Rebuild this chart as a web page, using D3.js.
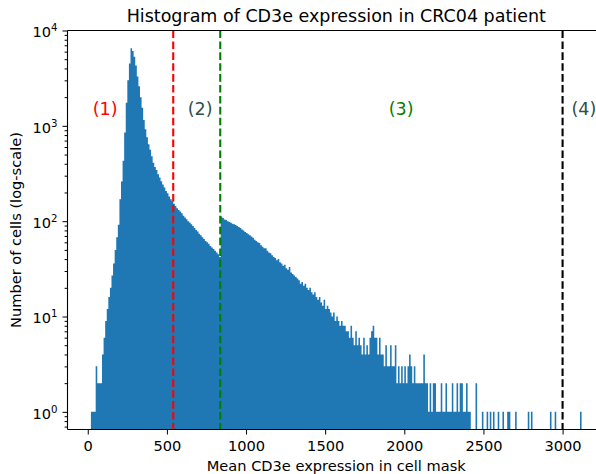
<!DOCTYPE html>
<meta charset="utf-8">
<style>
body { margin: 0; background: #fff; }
svg { display: block; font-family: "DejaVu Sans", sans-serif; }
</style>
<svg width="596" height="474"></svg>
<script src="https://cdnjs.cloudflare.com/ajax/libs/d3/7.8.5/d3.min.js"></script>
<script>

var svg = d3.select("svg"),
    width = +svg.attr("width"),
    height = +svg.attr("height");

// histogram of mean CD3e per cell, bins of 10 starting at 20
var binStart = 20, binWidth = 10;
var counts = [
  1,1,1,3,2,2,2,4,6,9,
  12,16,20,27,36,50,68,92,170,260,
  430,850,1750,3000,4500,6500,6100,5300,4300,3300,
  2600,2000,1550,1150,920,760,640,560,480,410,
  370,345,310,288,262,242,226,207,196,182,
  170,163,152,144,137,131,126,121,114,109,
  105,100,97,93,89,85,81,78,74,71,
  68,65,62,60,58,55,53,51,49,47,
  45,42,112,108,104,103,100,98,96,94,
  93,91,89,87,85,82,80,77,75,73,
  71,69,67,64,62,60,59,56,54,52,
  52,49,47,46,44,42,41,39,40,37,
  36,34,35,32,31,33,29,28,27,26,
  25,24,22,23,21,22,20,19,20,18,
  17,18,16,15,16,14,13,15,12,13,
  12,11,10,11,9,10,9,8,9,8,
  8,7,7,6,8,6,5,7,5,6,
  5,4,6,4,5,4,6,7,8,6,
  6,4,6,4,4,3,5,3,3,5,
  3,3,5,2,3,2,3,2,3,2,
  3,4,3,2,3,2,2,2,2,2,
  4,2,2,1,2,1,2,2,1,1,
  1,2,1,1,2,1,1,1,2,1,
  1,2,1,2,2,1,1,2,1,1
];
// sparse far tail: [bin start, count]
var tail = [[2450,2],[2490,1],[2520,1],[2540,1],[2560,1],[2590,1],[2620,1],
            [2650,1],[2660,1],[2700,1],[2780,1],[2800,1],[2920,1],[2950,1],[3110,1]];

var cutoffs = [540, 837, 3000];
var cutoffColors = ["red", "green", "black"];
var regionLabels = ["(1)", "(2)", "(3)", "(4)"];
var regionX = [110, 710, 1980, 3135];
var regionColors = ["red", "darkslategray", "green", "darkslategray"];
var labelLevel = 1500;

var xTicks = [0, 500, 1000, 1500, 2000, 2500, 3000];
var yTicks = [1, 10, 100, 1000, 10000];

var plotLeft = 67.5, plotRight = 605, plotTop = 30.5, plotBottom = 429.5;
var tickFont = "14.6px", bigFont = "17.5px";

var x = d3.scaleLinear().domain([-128, 3268]).range([plotLeft, plotRight]);
var y = d3.scaleLog().domain([0.653, 10000]).range([plotBottom, plotTop]);

// assemble contiguous bins
var nBins = (3120 - binStart) / binWidth;
var bins = d3.range(nBins).map(function(i) {
  return {x0: binStart + i * binWidth, n: i < counts.length ? counts[i] : 0};
});
tail.forEach(function(t) { bins[(t[0] - binStart) / binWidth].n = t[1]; });
bins.push({x0: binStart + nBins * binWidth, n: 0});

var area = d3.area()
    .curve(d3.curveStepAfter)
    .x(function(d) { return x(d.x0); })
    .y0(plotBottom)
    .y1(function(d) { return d.n > 0 ? y(d.n) : plotBottom; });

svg.append("path")
    .datum(bins)
    .attr("fill", "#1f77b4")
    .attr("d", area);

// cutoff lines
svg.selectAll(".cut")
    .data(cutoffs)
  .enter().append("line")
    .attr("x1", function(d) { return x(d); })
    .attr("x2", function(d) { return x(d); })
    .attr("y1", plotTop)
    .attr("y2", plotBottom)
    .attr("stroke", function(d, i) { return cutoffColors[i]; })
    .attr("stroke-width", 2.1)
    .attr("stroke-dasharray", "7.6,3.3");

// region labels
svg.selectAll(".reg")
    .data(regionLabels)
  .enter().append("text")
    .attr("x", function(d, i) { return x(regionX[i]); })
    .attr("y", y(labelLevel) + 5.5)
    .attr("text-anchor", "middle")
    .attr("font-size", bigFont)
    .attr("fill", function(d, i) { return regionColors[i]; })
    .text(function(d) { return d; });

// axes
var xAxis = svg.append("g")
    .attr("transform", "translate(0," + plotBottom + ")")
    .call(d3.axisBottom(x).tickValues(xTicks).tickSize(5).tickPadding(5).tickFormat(d3.format("d")));

var yMinor = [];
[0.1, 1, 10, 100, 1000].forEach(function(p) {
  for (var k = 2; k <= 9; k++) {
    var v = p * k;
    if (v >= 0.653 && v <= 10000) yMinor.push(v);
  }
});

svg.append("g")
    .attr("transform", "translate(" + plotLeft + ",0)")
    .call(d3.axisLeft(y).tickValues(yMinor).tickSize(2.9).tickFormat(""));

var yAxis = svg.append("g")
    .attr("transform", "translate(" + plotLeft + ",0)")
    .call(d3.axisLeft(y).tickValues(yTicks).tickSize(5).tickPadding(5));

svg.selectAll(".domain").remove();
svg.selectAll(".tick line").attr("stroke", "#000").attr("stroke-width", 1);
svg.selectAll(".tick text")
    .attr("font-family", "DejaVu Sans")
    .attr("font-size", tickFont)
    .attr("fill", "#000");

xAxis.selectAll(".tick text").attr("dy", "0.78em");

yAxis.selectAll(".tick text")
    .attr("dy", "0.43em")
    .each(function(d) {
      var t = d3.select(this);
      t.text("10");
      t.append("tspan")
        .attr("dy", -6)
        .attr("font-size", "10.2px")
        .text(Math.round(Math.log10(d)));
    });

// spines
var spines = svg.append("g").attr("stroke", "#000").attr("stroke-width", 1.1);
spines.append("line").attr("x1", plotLeft).attr("x2", plotLeft).attr("y1", plotTop).attr("y2", plotBottom);
spines.append("line").attr("x1", plotLeft).attr("x2", plotRight).attr("y1", plotBottom).attr("y2", plotBottom);
spines.append("line").attr("x1", plotLeft).attr("x2", plotRight).attr("y1", plotTop).attr("y2", plotTop);
spines.append("line").attr("x1", plotRight).attr("x2", plotRight).attr("y1", plotTop).attr("y2", plotBottom);

// titles
svg.append("text")
    .attr("x", (plotLeft + plotRight) / 2)
    .attr("y", 22)
    .attr("text-anchor", "middle")
    .attr("font-size", bigFont)
    .text("Histogram of CD3e expression in CRC04 patient");

svg.append("text")
    .attr("x", (plotLeft + plotRight) / 2)
    .attr("y", 470.5)
    .attr("text-anchor", "middle")
    .attr("font-size", tickFont)
    .text("Mean CD3e expression in cell mask");

svg.append("text")
    .attr("transform", "translate(21," + (plotTop + plotBottom) / 2 + ") rotate(-90)")
    .attr("text-anchor", "middle")
    .attr("font-size", tickFont)
    .text("Number of cells (log-scale)");

</script>
